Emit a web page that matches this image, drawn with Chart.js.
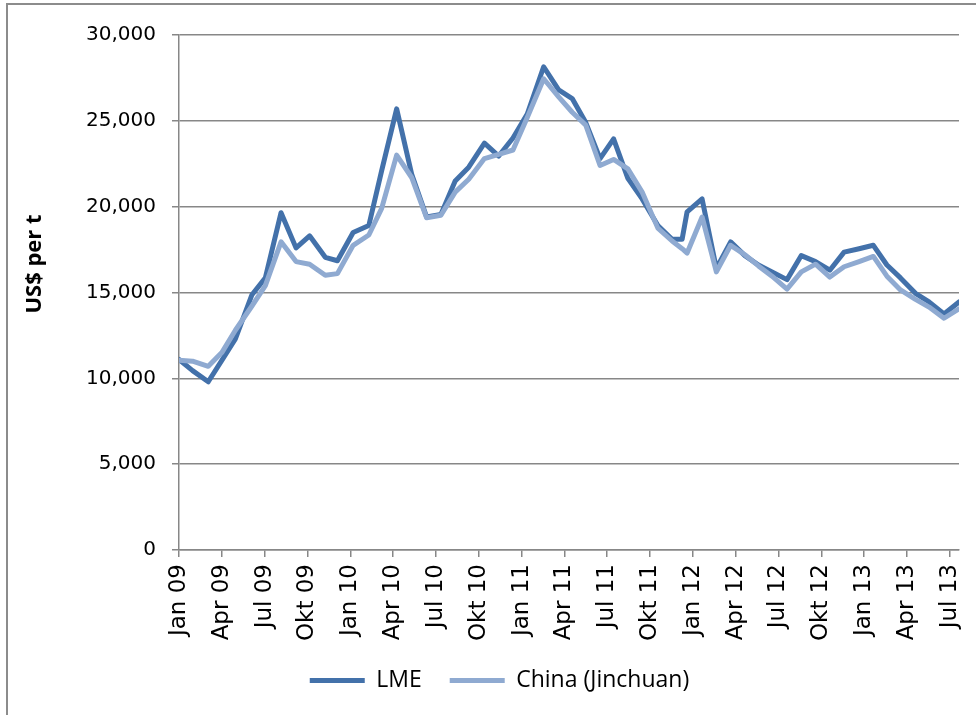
<!DOCTYPE html>
<html>
<head>
<meta charset="utf-8">
<title>Nickel price: LME vs China (Jinchuan)</title>
<script src="https://cdn.jsdelivr.net/npm/chart.js@4.4.1/dist/chart.umd.min.js"></script>
<style>
  html, body { margin: 0; padding: 0; background: #fff; }
  #wrap { position: relative; width: 976px; height: 715px; }
</style>
</head>
<body>
<div id="wrap"><canvas id="chart" width="976" height="715"></canvas></div>
<script>
// observation dates, in months counted from Jan 09
const months = [0, 0.95, 2.05, 3.0, 3.95, 5.1, 6.05, 7.15, 8.2, 9.15, 10.25, 11.1,
  12.2, 13.3, 14.2, 15.25, 16.3, 17.35, 18.35, 19.35, 20.3, 21.4, 22.4, 23.4,
  24.4, 25.55, 26.6, 27.55, 28.5, 29.5, 30.45, 31.45, 32.45, 33.55, 34.55, 35.25,
  35.6, 36.65, 37.65, 38.65, 39.65, 40.6, 41.55, 42.6, 43.6, 44.6, 45.6, 46.6,
  47.65, 48.65, 49.6, 50.55, 51.6, 52.55, 53.6, 54.65];

// US$ per t
const lme = [11100, 10450, 9800, 11050, 12300, 14850, 15850, 19650, 17600, 18300, 17050, 16850,
  18500, 18900, 22100, 25700, 21900, 19400, 19550, 21500, 22300, 23700, 22950, 24000,
  25400, 28150, 26800, 26300, 24900, 22800, 23950, 21650, 20450, 18900, 18100, 18100,
  19700, 20450, 16400, 17950, 17150, 16600, 16200, 15750, 17150, 16800, 16300, 17350,
  17550, 17750, 16600, 15850, 14950, 14450, 13750, 14450];

const china = [11050, 11000, 10700, 11500, 12800, 14200, 15400, 17950, 16800, 16650, 16000, 16100,
  17750, 18350, 19900, 23000, 21700, 19350, 19500, 20850, 21600, 22800, 23050, 23300,
  25200, 27450, 26400, 25500, 24750, 22400, 22750, 22200, 20850, 18750, 18000, 17550,
  17300, 19400, 16200, 17750, 17200, 16550, 15950, 15200, 16200, 16650, 15900, 16500,
  16800, 17100, 15950, 15150, 14600, 14150, 13500, 14050];

// one label every third month
const tickLabels = ['Jan 09', 'Apr 09', 'Jul 09', 'Okt 09', 'Jan 10', 'Apr 10', 'Jul 10',
  'Okt 10', 'Jan 11', 'Apr 11', 'Jul 11', 'Okt 11', 'Jan 12', 'Apr 12', 'Jul 12',
  'Okt 12', 'Jan 13', 'Apr 13', 'Jul 13'];

const seriesNames = ['LME', 'China (Jinchuan)'];
const yTitle = 'US$ per t';
const darkBlue = '#4371aa';
const lightBlue = '#8faad1';
const gridGrey = '#878787';

function points(values) {
  return months.map((m, i) => ({ x: m, y: values[i] }));
}

// outer frame of the chart box
const frame = {
  id: 'frame',
  beforeDraw(chart) {
    const ctx = chart.ctx;
    ctx.save();
    ctx.fillStyle = '#fff';
    ctx.fillRect(0, 0, chart.width, chart.height);
    ctx.strokeStyle = '#8c8c8c';
    ctx.lineWidth = 2;
    ctx.strokeRect(7, 4, chart.width + 10, chart.height + 10);
    ctx.restore();
  }
};

// vertical axis title, sitting a bit above the middle of the plot
const axisTitle = {
  id: 'axisTitle',
  afterDraw(chart) {
    const ctx = chart.ctx;
    ctx.save();
    ctx.translate(35, 264);
    ctx.rotate(-Math.PI / 2);
    ctx.fillStyle = '#000';
    ctx.font = 'bold 22px "Open Sans"';
    ctx.textAlign = 'center';
    ctx.textBaseline = 'middle';
    ctx.fillText(yTitle, 0, 0);
    ctx.restore();
  }
};

new Chart(document.getElementById('chart'), {
  type: 'line',
  data: {
    datasets: [
      {
        label: seriesNames[0],
        data: points(lme),
        borderColor: darkBlue,
        backgroundColor: darkBlue,
        borderWidth: 5,
        order: 1
      },
      {
        label: seriesNames[1],
        data: points(china),
        borderColor: lightBlue,
        backgroundColor: lightBlue,
        borderWidth: 5,
        order: 0
      }
    ]
  },
  options: {
    responsive: false,
    animation: false,
    devicePixelRatio: 1,
    elements: {
      point: { radius: 0 },
      line: { tension: 0, borderJoinStyle: 'round', borderCapStyle: 'round' }
    },
    layout: { padding: { left: 40, right: 17, top: 35, bottom: 13 } },
    scales: {
      x: {
        type: 'linear',
        min: 0,
        max: months[months.length - 1],
        afterFit(scale) {
          scale.height = 91;
          // let the plot run up to the right padding; the last label fits anyway
          scale.paddingRight = 0;
        },
        border: { color: gridGrey, width: 1.5 },
        grid: { display: true, drawOnChartArea: false, drawTicks: true, tickLength: 7, color: gridGrey, lineWidth: 1.5 },
        ticks: {
          stepSize: 3,
          includeBounds: false,
          autoSkip: false,
          minRotation: 90,
          maxRotation: 90,
          padding: 7,
          color: '#000',
          font: { family: 'DejaVu Sans', size: 23 },
          callback: v => tickLabels[Math.round(v / 3)]
        }
      },
      y: {
        min: 0,
        max: 30000,
        afterFit(scale) { scale.width = 139; },
        border: { color: gridGrey, width: 1.5 },
        grid: { color: gridGrey, lineWidth: 1.5, tickLength: 7 },
        ticks: {
          stepSize: 5000,
          padding: 16,
          color: '#000',
          font: { family: 'DejaVu Sans', size: 20 },
          callback: v => v.toLocaleString('en-US')
        }
      }
    },
    plugins: {
      tooltip: { enabled: false },
      legend: {
        position: 'bottom',
        labels: {
          color: '#000',
          boxWidth: 55,
          boxHeight: 5,
          padding: 28,
          font: { family: 'Open Sans', size: 23 },
          sort: (a, b) => a.datasetIndex - b.datasetIndex,
          generateLabels(chart) {
            return Chart.defaults.plugins.legend.labels.generateLabels(chart).map(item => {
              item.lineWidth = 0;
              item.fillStyle = item.strokeStyle;
              return item;
            });
          }
        }
      }
    }
  },
  plugins: [frame, axisTitle]
});
</script>
</body>
</html>
